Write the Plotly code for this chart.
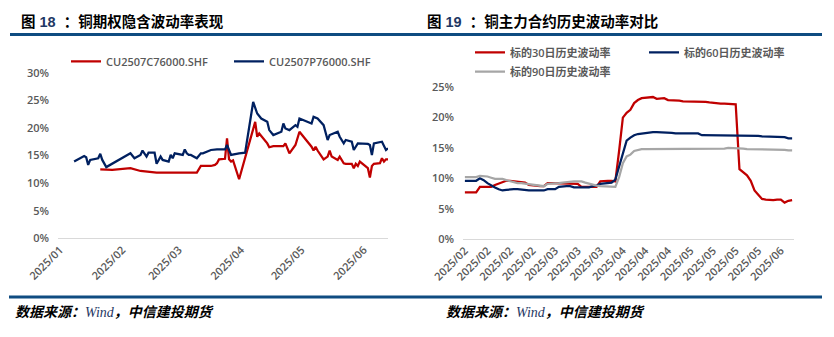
import plotly.graph_objects as go

W, H = 834, 337

# ---------------- Left chart data: implied volatility (%) ----------------
put_dates = [
    "2025-01-08", "2025-01-13", "2025-01-14", "2025-01-15", "2025-01-16", "2025-01-20",
    "2025-01-21", "2025-01-22", "2025-01-24", "2025-02-05", "2025-02-07", "2025-02-10",
    "2025-02-11", "2025-02-13", "2025-02-14", "2025-02-17", "2025-02-18", "2025-02-20",
    "2025-02-21", "2025-02-24", "2025-02-25", "2025-02-26", "2025-02-27", "2025-03-03",
    "2025-03-04", "2025-03-05", "2025-03-06", "2025-03-07", "2025-03-10", "2025-03-12",
    "2025-03-13", "2025-03-17", "2025-03-20", "2025-03-24", "2025-03-25", "2025-03-27",
    "2025-03-31", "2025-04-03", "2025-04-07", "2025-04-09", "2025-04-11", "2025-04-14",
    "2025-04-15", "2025-04-17", "2025-04-21", "2025-04-22", "2025-04-23", "2025-04-25",
    "2025-04-28", "2025-04-29", "2025-04-30", "2025-05-06", "2025-05-07", "2025-05-09",
    "2025-05-12", "2025-05-14", "2025-05-15", "2025-05-19", "2025-05-20", "2025-05-22",
    "2025-05-23", "2025-05-26", "2025-05-27", "2025-05-29", "2025-06-03", "2025-06-04",
    "2025-06-05", "2025-06-06", "2025-06-10", "2025-06-12", "2025-06-13",
]
put_iv = [
    13.9, 14.9, 14.7, 13.3, 14.2, 14.5,
    15.3, 14.2, 12.9, 15.4, 14.5, 15.1,
    15.9, 14.8, 15.5, 15.5, 13.5, 14.8,
    14.2, 13.9, 15.1, 14.5, 15.4, 15.1,
    16.1, 15.4, 15.1, 15.1, 14.5, 15.4,
    15.4, 16.0, 16.1, 16.1, 16.9, 15.1,
    15.4, 15.5, 24.7, 22.6, 21.7, 21.1,
    19.6, 18.7, 19.3, 20.8, 19.9, 19.6,
    20.5, 20.2, 21.7, 20.8, 22.0, 21.7,
    20.5, 17.8, 18.7, 19.3, 18.4, 17.2,
    17.8, 17.5, 16.0, 17.2, 17.1, 16.9,
    15.1, 17.2, 17.5, 16.0, 16.3,
]

call_dates = [
    "2025-01-21", "2025-01-27", "2025-02-05", "2025-02-10", "2025-02-18", "2025-03-03",
    "2025-03-10", "2025-03-12", "2025-03-17", "2025-03-19", "2025-03-20", "2025-03-21",
    "2025-03-24", "2025-03-25", "2025-03-26", "2025-03-27", "2025-03-28", "2025-03-31",
    "2025-04-08", "2025-04-09", "2025-04-10", "2025-04-14", "2025-04-15", "2025-04-17",
    "2025-04-22", "2025-04-23", "2025-04-25", "2025-04-28", "2025-04-30", "2025-05-06",
    "2025-05-07", "2025-05-08", "2025-05-09", "2025-05-12", "2025-05-14", "2025-05-15",
    "2025-05-16", "2025-05-19", "2025-05-20", "2025-05-22", "2025-05-23", "2025-05-26",
    "2025-05-27", "2025-05-28", "2025-05-29", "2025-05-30", "2025-06-03", "2025-06-04",
    "2025-06-05", "2025-06-06", "2025-06-09", "2025-06-10", "2025-06-11", "2025-06-12",
    "2025-06-13",
]
call_iv = [
    12.5, 12.4, 12.7, 12.2, 11.9, 11.9,
    11.9, 13.1, 13.1, 13.3, 13.6, 14.3,
    14.4, 18.1, 14.3, 13.9, 14.1, 10.7,
    21.1, 18.4, 19.0, 17.2, 16.5, 16.7,
    16.7, 17.2, 15.4, 16.9, 19.3, 16.6,
    15.9, 16.6, 15.9, 14.3, 14.8, 15.9,
    14.8, 14.2, 14.8, 13.6, 13.5, 13.5,
    12.7, 13.5, 13.1, 13.9, 12.7, 11.0,
    13.1, 13.5, 13.6, 14.5, 13.9, 14.3,
    14.3,
]

# ---------------- Right chart data: historical volatility (%) ----------------
hv30 = [
    7.7, 7.7, 7.7, 7.7, 8.6, 8.6, 8.6, 8.6, 8.9, 9.1,
    9.4, 9.6, 9.6, 9.5, 9.5, 9.4, 9.3, 8.9, 8.8, 8.7,
    8.7, 8.7, 9.2, 9.2, 9.2, 9.2, 9.1, 9.1, 9.1, 9.1,
    9.1, 8.6, 8.6, 8.6, 8.6, 8.6, 9.5, 9.6, 9.6, 9.6,
    9.5, 14.5, 20.0, 20.8, 21.3, 22.4, 22.9, 23.2, 23.3, 23.4,
    23.4, 23.1, 23.1, 23.2, 22.9, 22.9, 22.8, 22.8, 22.7, 22.7,
    22.7, 22.7, 22.7, 22.6, 22.6, 22.5, 22.4, 22.3, 22.3, 22.3,
    22.3, 22.3, 22.2, 11.5, 11.0, 10.5, 9.6, 8.0, 7.3, 6.6,
    6.5, 6.4, 6.4, 6.5, 6.5, 6.0, 6.3, 6.4,
]
hv60 = [
    9.6, 9.6, 9.6, 9.6, 10.0, 9.7, 9.2, 8.8, 8.5, 8.2,
    8.0, 8.1, 8.2, 8.2, 8.2, 8.1, 8.1, 8.0, 8.0, 8.0,
    8.0, 8.0, 8.2, 8.2, 8.2, 8.6, 8.7, 8.7, 8.7, 8.5,
    8.5, 8.5, 8.5, 8.5, 8.7, 8.8, 9.1, 9.2, 9.3, 9.3,
    9.8, 12.0, 14.2, 16.2, 16.7, 17.1, 17.3, 17.4, 17.5, 17.6,
    17.6, 17.6, 17.6, 17.5, 17.5, 17.5, 17.4, 17.4, 17.4, 17.4,
    17.4, 17.4, 17.4, 17.1, 17.1, 17.0, 17.0, 17.0, 17.0, 17.0,
    17.0, 17.0, 17.0, 17.0, 17.0, 17.0, 17.0, 17.0, 17.0, 16.9,
    16.9, 16.9, 16.9, 16.9, 16.8, 16.8, 16.6, 16.6,
]
hv90 = [
    10.2, 10.2, 10.2, 10.2, 10.4, 10.4, 10.3, 10.1, 9.9, 9.9,
    9.9, 9.7, 9.5, 9.4, 9.2, 9.2, 9.1, 9.1, 9.0, 8.9,
    8.8, 8.7, 9.1, 9.1, 9.1, 9.2, 9.3, 9.4, 9.5, 9.5,
    9.5, 9.5, 9.3, 9.1, 8.9, 8.8, 8.7, 8.7, 8.6, 8.6,
    8.6, 10.2, 12.5, 13.6, 13.9, 14.5, 14.7, 14.8, 14.8, 14.8,
    14.9, 14.9, 14.9, 14.9, 14.9, 14.9, 14.9, 14.9, 14.9, 14.9,
    14.9, 14.9, 14.9, 14.9, 14.9, 14.9, 14.9, 14.9, 14.9, 14.9,
    15.0, 15.0, 15.0, 14.9, 14.9, 14.8, 14.8, 14.8, 14.8, 14.8,
    14.7, 14.7, 14.7, 14.7, 14.7, 14.7, 14.6, 14.6,
]
hv_tick_labels = [
    "2025/02", "2025/02", "2025/02", "2025/02",
    "2025/03", "2025/03", "2025/03",
    "2025/04", "2025/04", "2025/04",
    "2025/05", "2025/05", "2025/05", "2025/05",
    "2025/06",
]
hv_label_step = 6

RED = "#C00000"
NAVY = "#002060"
GRAY = "#A6A6A6"
AXIS_TXT = "#595959"
BAR = "#0F4C81"
TICK_FONT = dict(family="Open Sans, Noto Sans CJK SC, sans-serif", size=11, color=AXIS_TXT, weight=600)
LEG_FONT = dict(family="Open Sans, Noto Sans CJK SC, sans-serif", size=11, color=AXIS_TXT, weight=600)


def px_x(p):
    return p / W


def px_y(p):
    return 1 - p / H


hv_x = list(range(len(hv30)))
hv_ticks = list(range(0, len(hv30), hv_label_step))[: len(hv_tick_labels)]

fig = go.Figure()
fig.add_trace(go.Scatter(x=call_dates, y=call_iv, mode="lines", name="CU2507C76000.SHF",
                         line=dict(color=RED, width=2.25), xaxis="x", yaxis="y", legend="legend"))
fig.add_trace(go.Scatter(x=put_dates, y=put_iv, mode="lines", name="CU2507P76000.SHF",
                         line=dict(color=NAVY, width=2.25), xaxis="x", yaxis="y", legend="legend"))
fig.add_trace(go.Scatter(x=hv_x, y=hv30, mode="lines", name="标的30日历史波动率",
                         line=dict(color=RED, width=2.25), xaxis="x2", yaxis="y2", legend="legend2"))
fig.add_trace(go.Scatter(x=hv_x, y=hv60, mode="lines", name="标的60日历史波动率",
                         line=dict(color=NAVY, width=2.25), xaxis="x2", yaxis="y2", legend="legend2"))
fig.add_trace(go.Scatter(x=hv_x, y=hv90, mode="lines", name="标的90日历史波动率",
                         line=dict(color=GRAY, width=2.25), xaxis="x2", yaxis="y2", legend="legend3"))

common_x = dict(showgrid=False, zeroline=False, showline=True, linecolor="#D9D9D9", linewidth=1,
                ticks="", tickangle=-45, tickfont=TICK_FONT, automargin=False)
common_y = dict(showgrid=False, zeroline=False, showline=False, ticks="", dtick=5,
                ticksuffix="%", tickfont=TICK_FONT, ticklabelstandoff=8, automargin=False)

fig.update_layout(
    width=W, height=H,
    margin=dict(l=0, r=0, t=0, b=0, autoexpand=False),
    paper_bgcolor="white", plot_bgcolor="white",
    xaxis=dict(domain=[px_x(58), px_x(388)], type="date", range=["2024-12-31", "2025-06-13"],
               dtick="M1", tick0="2025-01-01", tickformat="%Y/%m", anchor="y", **common_x),
    yaxis=dict(domain=[px_y(238.3), px_y(72.7)], range=[0, 30], anchor="x", **common_y),
    xaxis2=dict(domain=[px_x(463), px_x(794)], range=[-0.5, len(hv30) - 0.5],
                tickmode="array", tickvals=hv_ticks, ticktext=hv_tick_labels, anchor="y2", **common_x),
    yaxis2=dict(domain=[px_y(239), px_y(87.3)], range=[0, 25], anchor="x2", **common_y),
    legend=dict(orientation="h", x=px_x(66), y=px_y(61.3), xanchor="left", yanchor="middle",
                font=LEG_FONT, itemwidth=30, entrywidth=118, bgcolor="rgba(0,0,0,0)", traceorder="normal"),
    legend2=dict(orientation="h", x=px_x(470), y=px_y(52.3), xanchor="left", yanchor="middle",
                 font=LEG_FONT, itemwidth=30, entrywidth=129, bgcolor="rgba(0,0,0,0)", traceorder="normal"),
    legend3=dict(orientation="h", x=px_x(470), y=px_y(71.7), xanchor="left", yanchor="middle",
                 font=LEG_FONT, itemwidth=30, entrywidth=129, bgcolor="rgba(0,0,0,0)"),
    showlegend=True,
)

# header / footer rules
fig.add_shape(type="line", xref="paper", yref="paper", x0=px_x(10), x1=px_x(822),
              y0=px_y(34.5), y1=px_y(34.5), line=dict(color=BAR, width=3))
fig.add_shape(type="line", xref="paper", yref="paper", x0=px_x(9), x1=px_x(822),
              y0=px_y(297), y1=px_y(297), line=dict(color=BAR, width=3))

TITLE_FONT = dict(family="Liberation Sans, Noto Sans CJK SC, sans-serif", size=14.5, color="black")
fig.add_annotation(text="<b>图 <span style='color:#1F3864'>18</span>\u00a0\u00a0：铜期权隐含波动率表现</b>",
                   xref="paper", yref="paper", x=px_x(19), y=px_y(21), xanchor="left", yanchor="middle",
                   showarrow=False, font=TITLE_FONT)
fig.add_annotation(text="<b>图 <span style='color:#1F3864'>19</span>\u00a0\u00a0：铜主力合约历史波动率对比</b>",
                   xref="paper", yref="paper", x=px_x(425), y=px_y(21), xanchor="left", yanchor="middle",
                   showarrow=False, font=TITLE_FONT)

SRC = ("<b><i>数据来源：</i></b><i><span style='font-family:Liberation Serif;color:#1F3864'>Wind</span></i>"
       "<b><i>，中信建投期货</i></b>")
SRC_FONT = dict(family="Noto Sans CJK SC, sans-serif", size=14, color="black")
fig.add_annotation(text=SRC, xref="paper", yref="paper", x=px_x(13), y=px_y(311),
                   xanchor="left", yanchor="middle", showarrow=False, font=SRC_FONT)
fig.add_annotation(text=SRC, xref="paper", yref="paper", x=px_x(444), y=px_y(311),
                   xanchor="left", yanchor="middle", showarrow=False, font=SRC_FONT)

fig.write_html("out.html")
